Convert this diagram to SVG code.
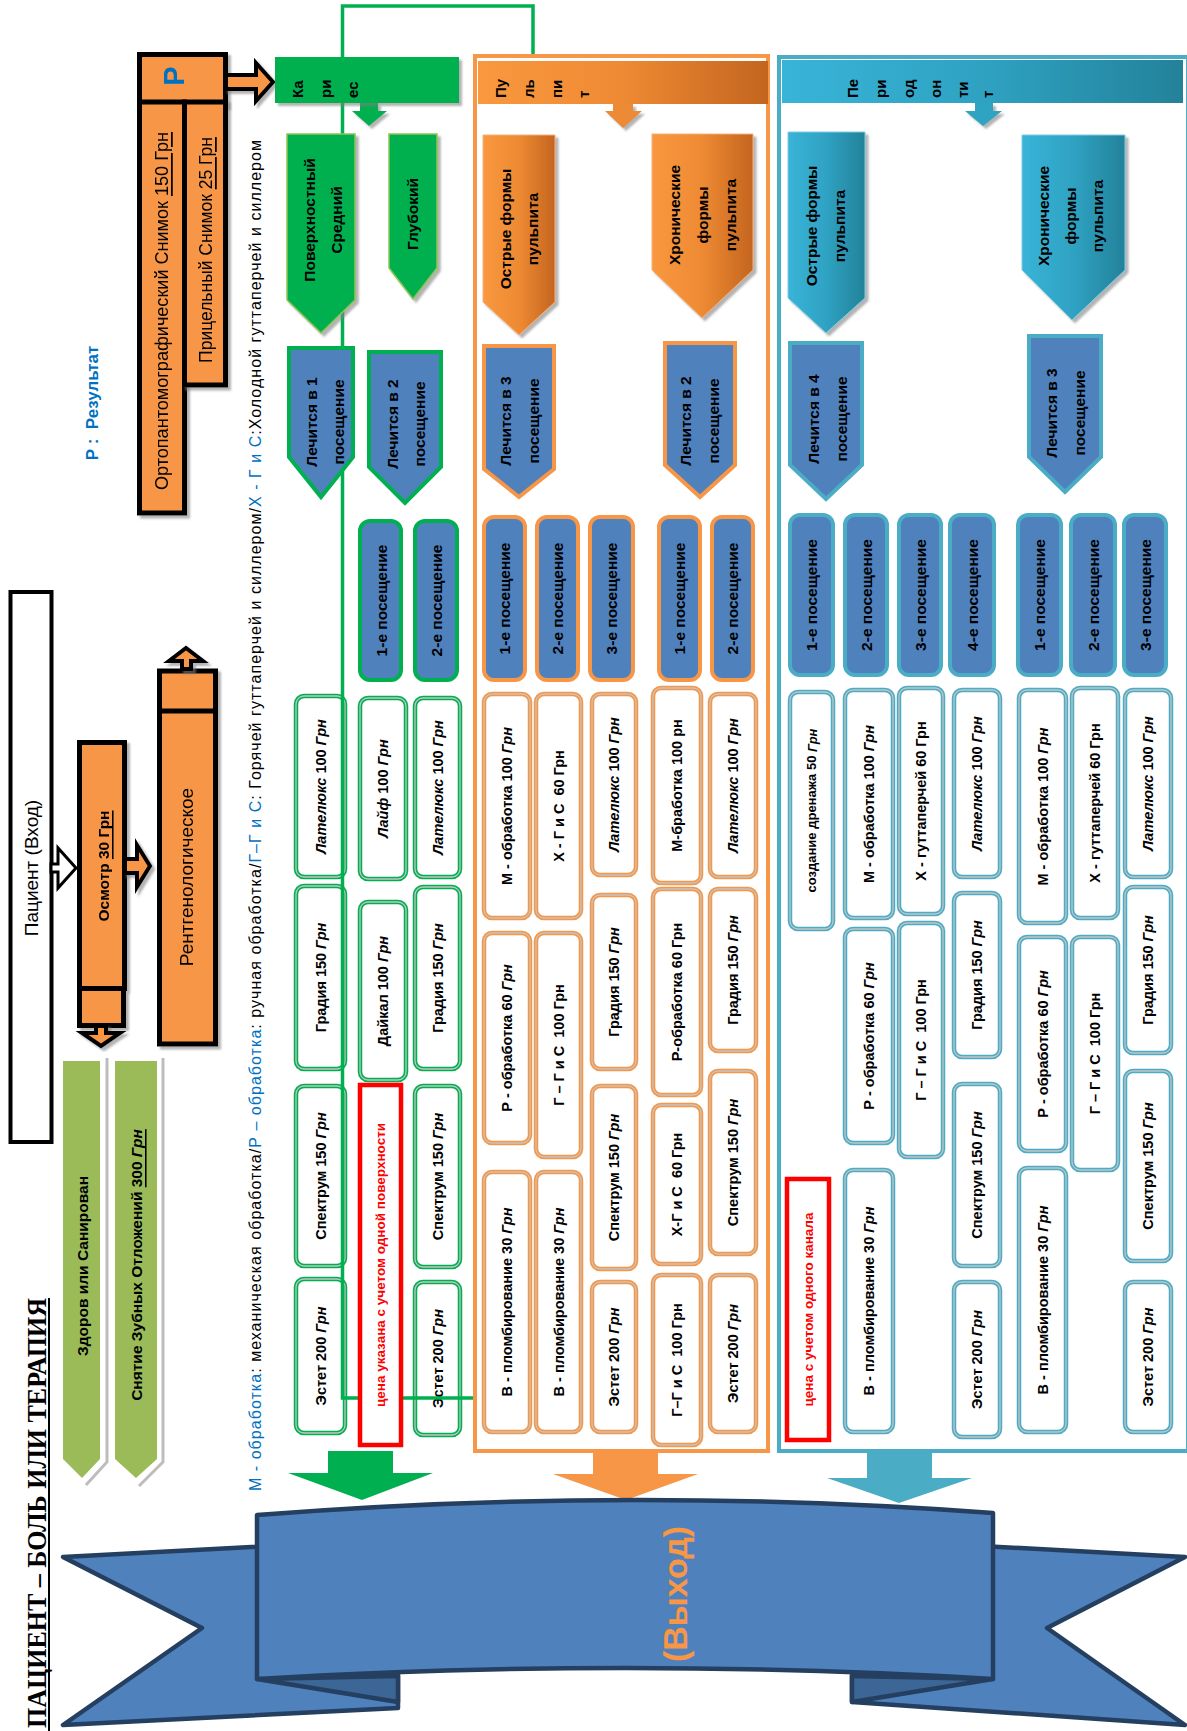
<svg xmlns="http://www.w3.org/2000/svg" width="1187" height="1731" viewBox="0 0 1187 1731">
<defs>
<style>
text{font-family:'Liberation Sans',Arial,sans-serif;fill:#000}
.t{font-weight:bold;font-size:14.5px;text-anchor:middle;dominant-baseline:central}
.p{font-weight:bold;font-size:15.5px;text-anchor:middle;dominant-baseline:central}
.h{font-weight:bold;font-size:15px;dominant-baseline:central}
.rt{fill:#FF0000;font-weight:bold;font-size:13.5px;text-anchor:middle;dominant-baseline:central}
.i{font-style:italic}
.u{text-decoration:underline}
.wb{fill:#fff;stroke-width:4.5}
.wi{fill:none;stroke:#C4C4C4;stroke-width:1.3}
.g{stroke:#00B050}
.o{stroke:#F79646}
.c{stroke:#4BACC6}
.vb{fill:#4F81BD;stroke-width:4}
.lb{fill:#4F81BD;stroke-width:4;stroke-linejoin:miter}
.pg{fill:#00B050;stroke:#8FC552;stroke-width:1.5}
.po{fill:url(#gO);stroke:#F6B07A;stroke-width:1}
.pc{fill:url(#gC);stroke:#7FCCE0;stroke-width:1}
.bk{fill:#F79646;stroke:#000;stroke-width:5}
.rd{fill:#fff;stroke:#FF0000;stroke-width:4.5}
.rb{fill:#4F81BD;stroke:#243F60;stroke-width:4.5;stroke-linejoin:round}
.sh{filter:url(#sh)}
</style>
<linearGradient id="gO" x1="0" y1="0" x2="1" y2="0"><stop offset="0" stop-color="#F9983F"/><stop offset="0.5" stop-color="#EE8A33"/><stop offset="1" stop-color="#C4651F"/></linearGradient>
<linearGradient id="gC" x1="0" y1="0" x2="1" y2="0"><stop offset="0" stop-color="#38B4D8"/><stop offset="0.5" stop-color="#2FA2C2"/><stop offset="1" stop-color="#23829A"/></linearGradient>
<filter id="sh" x="-20%" y="-20%" width="150%" height="150%"><feDropShadow dx="3" dy="3" stdDeviation="1" flood-color="#808080" flood-opacity="0.6"/></filter>
</defs>
<rect width="1187" height="1731" fill="#fff"/>

<g id="title">
<text transform="translate(46 1298) rotate(-90)" style="font-family:'Liberation Serif','Times New Roman',serif;font-weight:bold;font-size:26.5px;text-anchor:end" textLength="430" lengthAdjust="spacingAndGlyphs">ПАЦИЕНТ – БОЛЬ ИЛИ ТЕРАПИЯ</text>
<line x1="49" y1="1298" x2="49" y2="1731" stroke="#000" stroke-width="2"/>
</g>

<g id="legend-result">
<text transform="translate(92 403) rotate(-90)" style="fill:#0070C0;font-weight:bold;font-size:17px;text-anchor:middle;dominant-baseline:central" xml:space="preserve">Р :  Результат</text>
</g>

<g id="legend">
<text transform="translate(261 1491) rotate(-90)" style="font-size:16px" textLength="1351" lengthAdjust="spacing"><tspan fill="#0070C0">М - обработка</tspan>: механическая обработка/<tspan fill="#0070C0">Р – обработка</tspan>: ручная обработка/<tspan fill="#0070C0">Г–Г и С</tspan>: Горячей гуттаперчей и силлером/<tspan fill="#0070C0">Х - Г и С</tspan>:Холодной гуттаперчей и силлером</text>
</g>

<g id="patient">
<rect x="10.5" y="592" width="41" height="550" fill="#fff" stroke="#000" stroke-width="4"/>
<text transform="translate(31 868) rotate(-90)" style="font-size:19px;text-anchor:middle;dominant-baseline:central">Пациент (Вход)</text>
</g>

<g id="exam" class="sh">
<rect class="bk" x="79.5" y="742.5" width="45" height="246"/>
<rect class="bk" x="79.5" y="988.5" width="44" height="37"/>
<text transform="translate(103 866) rotate(-90)" style="font-weight:bold;font-size:15.5px;text-anchor:middle;dominant-baseline:central">Осмотр <tspan class="u">30 Грн</tspan></text>
</g>

<g id="xray" class="sh">
<rect class="bk" x="159.5" y="671" width="56" height="373"/>
<line x1="159.5" y1="711" x2="215.5" y2="711" stroke="#000" stroke-width="5"/>
<text transform="translate(186 877) rotate(-90)" style="font-size:19px;text-anchor:middle;dominant-baseline:central">Рентгенологическое</text>
</g>

<g id="result-p" class="sh">
<rect class="bk" x="139.5" y="54.5" width="86" height="50"/>
<text transform="translate(174 76) rotate(-90)" style="fill:#0070C0;font-weight:bold;font-size:29px;text-anchor:middle;dominant-baseline:central">Р</text>
</g>
<g id="ortho" class="sh">
<rect class="bk" x="139.5" y="102" width="45" height="411"/>
<text transform="translate(162 311) rotate(-90)" style="font-size:17.5px;text-anchor:middle;dominant-baseline:central" textLength="358" lengthAdjust="spacingAndGlyphs">Ортопантомографический Снимок <tspan class="u">150 Грн</tspan></text>
</g>
<g id="aim" class="sh">
<rect class="bk" x="184.5" y="102" width="41" height="283"/>
<text transform="translate(206 250) rotate(-90)" style="font-size:17.5px;text-anchor:middle;dominant-baseline:central">Прицельный Снимок <tspan class="u">25 Грн</tspan></text>
</g>

<g id="healthy">
<polyline points="107,1058 107,1462 86,1485" fill="none" stroke="#BDBDBD" stroke-width="3"/>
<polygon points="63,1061 100,1061 100,1459 82,1478 63,1459" fill="#9BBB59"/>
<text class="p" transform="translate(82 1266) rotate(-90)">Здоров или Санирован</text>
</g>
<g id="scaling">
<polyline points="163,1058 163,1462 139,1486" fill="none" stroke="#BDBDBD" stroke-width="3"/>
<polygon points="115,1061 157,1061 157,1459 136,1478 115,1459" fill="#9BBB59"/>
<text class="p" transform="translate(136 1265) rotate(-90)">Снятие Зубных Отложений <tspan class="u">300 <tspan class="i">Грн</tspan></tspan></text>
</g>

<g id="pulp-frame"><rect x="475" y="56" width="293" height="1395" fill="none" stroke="#F79646" stroke-width="4"/></g>
<g id="perio-frame"><rect x="779" y="57" width="409" height="1394" fill="none" stroke="#4BACC6" stroke-width="4"/></g>

<g id="c-a1"><rect class="wb g" x="296" y="696" width="49" height="181" rx="8"/><rect class="wi" x="296" y="696" width="49" height="181" rx="8"/><text class="t" transform="translate(320.5 786.5) rotate(-90)"><tspan class="i">Лателюкс</tspan> 100 <tspan class="i">Грн</tspan></text></g>
<g id="c-a2"><rect class="wb g" x="296" y="886" width="49" height="183" rx="8"/><rect class="wi" x="296" y="886" width="49" height="183" rx="8"/><text class="t" transform="translate(320.5 977.5) rotate(-90)">Градия 150 <tspan class="i">Грн</tspan></text></g>
<g id="c-a3"><rect class="wb g" x="296" y="1086" width="49" height="180" rx="8"/><rect class="wi" x="296" y="1086" width="49" height="180" rx="8"/><text class="t" transform="translate(320.5 1176) rotate(-90)">Спектрум 150 <tspan class="i">Грн</tspan></text></g>
<g id="c-a4"><rect class="wb g" x="296" y="1279" width="49" height="154" rx="8"/><rect class="wi" x="296" y="1279" width="49" height="154" rx="8"/><text class="t" transform="translate(320.5 1356) rotate(-90)">Эстет 200 <tspan class="i">Грн</tspan></text></g>
<g id="c-b1"><rect class="wb g" x="360" y="698" width="46" height="181" rx="8"/><rect class="wi" x="360" y="698" width="46" height="181" rx="8"/><text class="t" transform="translate(383 788.5) rotate(-90)"><tspan class="i">Лайф</tspan> 100 <tspan class="i">Грн</tspan></text></g>
<g id="c-b2"><rect class="wb g" x="360" y="902" width="46" height="178" rx="8"/><rect class="wi" x="360" y="902" width="46" height="178" rx="8"/><text class="t" transform="translate(383 991) rotate(-90)">Дайкал 100 <tspan class="i">Грн</tspan></text></g>
<g id="c-c1"><rect class="wb g" x="415" y="698" width="45" height="179" rx="8"/><rect class="wi" x="415" y="698" width="45" height="179" rx="8"/><text class="t" transform="translate(437.5 787.5) rotate(-90)"><tspan class="i">Лателюкс</tspan> 100 <tspan class="i">Грн</tspan></text></g>
<g id="c-c2"><rect class="wb g" x="415" y="887" width="45" height="182" rx="8"/><rect class="wi" x="415" y="887" width="45" height="182" rx="8"/><text class="t" transform="translate(437.5 978) rotate(-90)">Градия 150 <tspan class="i">Грн</tspan></text></g>
<g id="c-c3"><rect class="wb g" x="415" y="1086" width="45" height="181" rx="8"/><rect class="wi" x="415" y="1086" width="45" height="181" rx="8"/><text class="t" transform="translate(437.5 1176.5) rotate(-90)">Спектрум 150 <tspan class="i">Грн</tspan></text></g>
<g id="c-c4"><rect class="wb g" x="415" y="1282" width="45" height="153" rx="8"/><rect class="wi" x="415" y="1282" width="45" height="153" rx="8"/><text class="t" transform="translate(437.5 1358.5) rotate(-90)">Эстет 200 <tspan class="i">Грн</tspan></text></g>

<g id="p-1a"><rect class="wb o" x="484" y="694" width="46" height="224" rx="8"/><rect class="wi" x="484" y="694" width="46" height="224" rx="8"/><text class="t" transform="translate(507 806) rotate(-90)">М - обработка 100 <tspan class="i">Грн</tspan></text></g>
<g id="p-1b"><rect class="wb o" x="484" y="933" width="46" height="210" rx="8"/><rect class="wi" x="484" y="933" width="46" height="210" rx="8"/><text class="t" transform="translate(507 1038) rotate(-90)">Р - обработка 60 <tspan class="i">Грн</tspan></text></g>
<g id="p-1c"><rect class="wb o" x="484" y="1172" width="46" height="260" rx="8"/><rect class="wi" x="484" y="1172" width="46" height="260" rx="8"/><text class="t" transform="translate(507 1302) rotate(-90)">В - пломбирование 30 <tspan class="i">Грн</tspan></text></g>
<g id="p-2a"><rect class="wb o" x="536" y="694" width="45" height="224" rx="8"/><rect class="wi" x="536" y="694" width="45" height="224" rx="8"/><text class="t" transform="translate(558.5 806) rotate(-90)" xml:space="preserve">Х - Г и С  60 Грн</text></g>
<g id="p-2b"><rect class="wb o" x="536" y="933" width="45" height="224" rx="8"/><rect class="wi" x="536" y="933" width="45" height="224" rx="8"/><text class="t" transform="translate(558.5 1045) rotate(-90)" xml:space="preserve">Г – Г и С  100 Грн</text></g>
<g id="p-2c"><rect class="wb o" x="536" y="1172" width="45" height="260" rx="8"/><rect class="wi" x="536" y="1172" width="45" height="260" rx="8"/><text class="t" transform="translate(558.5 1302) rotate(-90)">В - пломбирование 30 <tspan class="i">Грн</tspan></text></g>
<g id="p-3a"><rect class="wb o" x="592" y="694" width="44" height="181" rx="8"/><rect class="wi" x="592" y="694" width="44" height="181" rx="8"/><text class="t" transform="translate(614 784.5) rotate(-90)"><tspan class="i">Лателюкс</tspan> 100 <tspan class="i">Грн</tspan></text></g>
<g id="p-3b"><rect class="wb o" x="592" y="895" width="44" height="174" rx="8"/><rect class="wi" x="592" y="895" width="44" height="174" rx="8"/><text class="t" transform="translate(614 982) rotate(-90)">Градия 150 <tspan class="i">Грн</tspan></text></g>
<g id="p-3c"><rect class="wb o" x="592" y="1086" width="44" height="183" rx="8"/><rect class="wi" x="592" y="1086" width="44" height="183" rx="8"/><text class="t" transform="translate(614 1177.5) rotate(-90)">Спектрум 150 <tspan class="i">Грн</tspan></text></g>
<g id="p-3d"><rect class="wb o" x="592" y="1282" width="44" height="150" rx="8"/><rect class="wi" x="592" y="1282" width="44" height="150" rx="8"/><text class="t" transform="translate(614 1357) rotate(-90)">Эстет 200 <tspan class="i">Грн</tspan></text></g>
<g id="p-4a"><rect class="wb o" x="653" y="688" width="48" height="195" rx="8"/><rect class="wi" x="653" y="688" width="48" height="195" rx="8"/><text class="t" transform="translate(677 785.5) rotate(-90)">М-бработка 100 рн</text></g>
<g id="p-4b"><rect class="wb o" x="653" y="889" width="48" height="206" rx="8"/><rect class="wi" x="653" y="889" width="48" height="206" rx="8"/><text class="t" transform="translate(677 992) rotate(-90)">Р-обработка 60 Грн</text></g>
<g id="p-4c"><rect class="wb o" x="653" y="1105" width="48" height="159" rx="8"/><rect class="wi" x="653" y="1105" width="48" height="159" rx="8"/><text class="t" transform="translate(677 1184.5) rotate(-90)" xml:space="preserve">Х-Г и С  60 Грн</text></g>
<g id="p-4d"><rect class="wb o" x="653" y="1275" width="48" height="170" rx="8"/><rect class="wi" x="653" y="1275" width="48" height="170" rx="8"/><text class="t" transform="translate(677 1360) rotate(-90)" xml:space="preserve">Г–Г и С  100 Грн</text></g>
<g id="p-5a"><rect class="wb o" x="710" y="694" width="46" height="183" rx="8"/><rect class="wi" x="710" y="694" width="46" height="183" rx="8"/><text class="t" transform="translate(733 785.5) rotate(-90)"><tspan class="i">Лателюкс</tspan> 100 <tspan class="i">Грн</tspan></text></g>
<g id="p-5b"><rect class="wb o" x="710" y="889" width="46" height="162" rx="8"/><rect class="wi" x="710" y="889" width="46" height="162" rx="8"/><text class="t" transform="translate(733 970) rotate(-90)">Градия 150 <tspan class="i">Грн</tspan></text></g>
<g id="p-5c"><rect class="wb o" x="710" y="1071" width="46" height="183" rx="8"/><rect class="wi" x="710" y="1071" width="46" height="183" rx="8"/><text class="t" transform="translate(733 1162.5) rotate(-90)">Спектрум 150 <tspan class="i">Грн</tspan></text></g>
<g id="p-5d"><rect class="wb o" x="710" y="1275" width="46" height="157" rx="8"/><rect class="wi" x="710" y="1275" width="46" height="157" rx="8"/><text class="t" transform="translate(733 1353.5) rotate(-90)">Эстет 200 <tspan class="i">Грн</tspan></text></g>

<g id="r-1a"><rect class="wb c" x="790" y="692" width="43" height="237" rx="8"/><rect class="wi" x="790" y="692" width="43" height="237" rx="8"/><text class="t" style="font-size:13px" transform="translate(811.5 810.5) rotate(-90)">создание дренажа 50 <tspan class="i">Грн</tspan></text></g>
<g id="r-2a"><rect class="wb c" x="845" y="690" width="48" height="228" rx="8"/><rect class="wi" x="845" y="690" width="48" height="228" rx="8"/><text class="t" transform="translate(869 804) rotate(-90)">М - обработка 100 <tspan class="i">Грн</tspan></text></g>
<g id="r-2b"><rect class="wb c" x="845" y="929" width="48" height="214" rx="8"/><rect class="wi" x="845" y="929" width="48" height="214" rx="8"/><text class="t" transform="translate(869 1036) rotate(-90)">Р - обработка 60 <tspan class="i">Грн</tspan></text></g>
<g id="r-2c"><rect class="wb c" x="845" y="1170" width="48" height="262" rx="8"/><rect class="wi" x="845" y="1170" width="48" height="262" rx="8"/><text class="t" transform="translate(869 1301) rotate(-90)">В - пломбирование 30 <tspan class="i">Грн</tspan></text></g>
<g id="r-3a"><rect class="wb c" x="899" y="688" width="44" height="226" rx="8"/><rect class="wi" x="899" y="688" width="44" height="226" rx="8"/><text class="t" transform="translate(921 801) rotate(-90)">Х - гуттаперчей 60 Грн</text></g>
<g id="r-3b"><rect class="wb c" x="899" y="923" width="44" height="234" rx="8"/><rect class="wi" x="899" y="923" width="44" height="234" rx="8"/><text class="t" transform="translate(921 1040) rotate(-90)" xml:space="preserve">Г – Г и С  100 Грн</text></g>
<g id="r-4a"><rect class="wb c" x="954" y="690" width="46" height="187" rx="8"/><rect class="wi" x="954" y="690" width="46" height="187" rx="8"/><text class="t" transform="translate(977 783.5) rotate(-90)"><tspan class="i">Лателюкс</tspan> 100 <tspan class="i">Грн</tspan></text></g>
<g id="r-4b"><rect class="wb c" x="954" y="893" width="46" height="164" rx="8"/><rect class="wi" x="954" y="893" width="46" height="164" rx="8"/><text class="t" transform="translate(977 975) rotate(-90)">Градия 150 <tspan class="i">Грн</tspan></text></g>
<g id="r-4c"><rect class="wb c" x="954" y="1084" width="46" height="182" rx="8"/><rect class="wi" x="954" y="1084" width="46" height="182" rx="8"/><text class="t" transform="translate(977 1175) rotate(-90)">Спектрум 150 <tspan class="i">Грн</tspan></text></g>
<g id="r-4d"><rect class="wb c" x="954" y="1282" width="46" height="155" rx="8"/><rect class="wi" x="954" y="1282" width="46" height="155" rx="8"/><text class="t" transform="translate(977 1359.5) rotate(-90)">Эстет 200 <tspan class="i">Грн</tspan></text></g>
<g id="r-5a"><rect class="wb c" x="1019" y="690" width="47" height="233" rx="8"/><rect class="wi" x="1019" y="690" width="47" height="233" rx="8"/><text class="t" transform="translate(1042.5 806.5) rotate(-90)">М - обработка 100 <tspan class="i">Грн</tspan></text></g>
<g id="r-5b"><rect class="wb c" x="1019" y="937" width="47" height="214" rx="8"/><rect class="wi" x="1019" y="937" width="47" height="214" rx="8"/><text class="t" transform="translate(1042.5 1044) rotate(-90)">Р - обработка 60 <tspan class="i">Грн</tspan></text></g>
<g id="r-5c"><rect class="wb c" x="1019" y="1168" width="47" height="264" rx="8"/><rect class="wi" x="1019" y="1168" width="47" height="264" rx="8"/><text class="t" transform="translate(1042.5 1300) rotate(-90)">В - пломбирование 30 <tspan class="i">Грн</tspan></text></g>
<g id="r-6a"><rect class="wb c" x="1072" y="688" width="46" height="230" rx="8"/><rect class="wi" x="1072" y="688" width="46" height="230" rx="8"/><text class="t" transform="translate(1095 803) rotate(-90)">Х - гуттаперчей 60 Грн</text></g>
<g id="r-6b"><rect class="wb c" x="1072" y="937" width="46" height="233" rx="8"/><rect class="wi" x="1072" y="937" width="46" height="233" rx="8"/><text class="t" transform="translate(1095 1053.5) rotate(-90)" xml:space="preserve">Г – Г и С  100 Грн</text></g>
<g id="r-7a"><rect class="wb c" x="1125" y="690" width="46" height="187" rx="8"/><rect class="wi" x="1125" y="690" width="46" height="187" rx="8"/><text class="t" transform="translate(1148 783.5) rotate(-90)"><tspan class="i">Лателюкс</tspan> 100 <tspan class="i">Грн</tspan></text></g>
<g id="r-7b"><rect class="wb c" x="1125" y="887" width="46" height="166" rx="8"/><rect class="wi" x="1125" y="887" width="46" height="166" rx="8"/><text class="t" transform="translate(1148 970) rotate(-90)">Градия 150 <tspan class="i">Грн</tspan></text></g>
<g id="r-7c"><rect class="wb c" x="1125" y="1071" width="46" height="190" rx="8"/><rect class="wi" x="1125" y="1071" width="46" height="190" rx="8"/><text class="t" transform="translate(1148 1166) rotate(-90)">Спектрум 150 <tspan class="i">Грн</tspan></text></g>
<g id="r-7d"><rect class="wb c" x="1125" y="1282" width="46" height="150" rx="8"/><rect class="wi" x="1125" y="1282" width="46" height="150" rx="8"/><text class="t" transform="translate(1148 1357) rotate(-90)">Эстет 200 <tspan class="i">Грн</tspan></text></g>

<g id="connectors">
<path d="M533 54 V6 H342.5 V1398 H473" fill="none" stroke="#00B050" stroke-width="3.5"/>
<polygon points="51,864 58,864 58,848 76,868 58,888 58,872 51,872" fill="#fff" stroke="#000" stroke-width="3" stroke-linejoin="miter"/>
<polygon class="sh" points="125,859 137,859 137,845 150,866 137,887 137,873 125,873" fill="#F79646" stroke="#000" stroke-width="4"/>
<polygon class="sh" points="96,1026 106,1026 106,1033 120,1033 101,1046 82,1033 96,1033" fill="#F79646" stroke="#000" stroke-width="4"/>
<polygon class="sh" points="182,669 182,661 169,661 186,648 203,661 191,661 191,669" fill="#F79646" stroke="#000" stroke-width="4"/>
<polygon class="sh" points="226,75 256,75 256,63 273,82 256,101 256,89 226,89" fill="#F79646" stroke="#000" stroke-width="4"/>
<polygon class="sh" points="360,103 378,103 378,111 387,111 369,126 352,111 360,111" fill="#00B050"/>
<polygon class="sh" points="613,104 633,104 633,111 642,111 623,128 605,111 613,111" fill="#EC8A36"/>
<polygon class="sh" points="975,103 993,103 993,111 1002,111 983,126 965,111 975,111" fill="#2FA3C2"/>
<polygon points="328,1451 393,1451 393,1473 433,1473 362,1500 288,1473 328,1473" fill="#00B050"/>
<polygon points="593,1452 658,1452 658,1474 698,1474 626,1500 553,1474 593,1474" fill="#F79646"/>
<polygon points="867,1452 932,1452 932,1478 972,1478 899,1503 827,1478 867,1478" fill="#4BACC6"/>
</g>

<g id="caries-head"><rect class="sh" x="275" y="57" width="184" height="46" fill="#00B050"/>
<text class="h" transform="translate(297 98) rotate(-90)"><tspan x="0" y="0">Ка</tspan><tspan x="0" y="28">ри</tspan><tspan x="0" y="55">ес</tspan></text></g>
<g id="c-surface"><polygon class="pg sh" points="287,134 355,134 355,300 321,333 287,300"/>
<text class="p" transform="translate(322 220) rotate(-90)"><tspan x="0" y="-13.5">Поверхностный</tspan><tspan x="0" y="13.5">Средний</tspan></text></g>
<g id="c-deep"><polygon class="pg sh" points="389,134 437,134 437,268 413,299 389,268"/>
<text class="p" transform="translate(412 214) rotate(-90)">Глубокий</text></g>
<g id="c-l1"><polygon class="lb g" points="289,348 353,348 353,457 321,497 289,457"/>
<text class="p" transform="translate(324 422) rotate(-90)"><tspan x="0" y="-13.5">Лечится в 1</tspan><tspan x="0" y="13.5">посещение</tspan></text></g>
<g id="c-l2"><polygon class="lb g" points="369,352 441,352 441,467 405,503 369,467"/>
<text class="p" transform="translate(405 424) rotate(-90)"><tspan x="0" y="-13.5">Лечится в 2</tspan><tspan x="0" y="13.5">посещение</tspan></text></g>
<g id="c-v1"><rect class="vb g" x="360" y="521" width="41" height="159" rx="10"/><text class="p" transform="translate(381 600.5) rotate(-90)">1-е посещение</text></g>
<g id="c-v2"><rect class="vb g" x="415" y="521" width="42" height="159" rx="10"/><text class="p" transform="translate(436 600.5) rotate(-90)">2-е посещение</text></g>
<g id="c-note"><rect class="rd" x="360" y="1085" width="41" height="360"/><text class="rt" transform="translate(380.5 1265) rotate(-90)">цена указана с учетом одной поверхности</text></g>

<g id="pulp-head"><rect x="478" y="61" width="290" height="43" fill="url(#gO)"/>
<text class="h" transform="translate(500 98) rotate(-90)"><tspan x="0" y="0">Пу</tspan><tspan x="0" y="28">ль</tspan><tspan x="0" y="56">пи</tspan><tspan x="0" y="83">т</tspan></text></g>
<g id="p-acute"><polygon class="po sh" points="483,135 555,135 555,302 519,335 483,302"/>
<text class="p" transform="translate(518 229) rotate(-90)"><tspan x="0" y="-13.5">Острые формы</tspan><tspan x="0" y="13.5">пульпита</tspan></text></g>
<g id="p-chronic"><polygon class="po sh" points="652,134 753,134 753,270 702,318 652,270"/>
<text class="p" transform="translate(702 215) rotate(-90)"><tspan x="0" y="-28">Хронические</tspan><tspan x="0" y="0">формы</tspan><tspan x="0" y="28">пульпита</tspan></text></g>
<g id="p-l3"><polygon class="lb o" points="484,346 554,346 554,469 519,497 484,469"/>
<text class="p" transform="translate(519 421) rotate(-90)"><tspan x="0" y="-14">Лечится в 3</tspan><tspan x="0" y="14">посещение</tspan></text></g>
<g id="p-l2"><polygon class="lb o" points="665,343 735,343 735,465 700,497 665,465"/>
<text class="p" transform="translate(699 421) rotate(-90)"><tspan x="0" y="-14">Лечится в 2</tspan><tspan x="0" y="14">посещение</tspan></text></g>
<g id="p-v1"><rect class="vb o" x="484" y="517" width="41" height="163" rx="10"/><text class="p" transform="translate(504.5 598.5) rotate(-90)">1-е посещение</text></g>
<g id="p-v2"><rect class="vb o" x="537" y="517" width="41" height="163" rx="10"/><text class="p" transform="translate(557.5 598.5) rotate(-90)">2-е посещение</text></g>
<g id="p-v3"><rect class="vb o" x="590" y="517" width="43" height="163" rx="10"/><text class="p" transform="translate(611.5 598.5) rotate(-90)">3-е посещение</text></g>
<g id="p-v4"><rect class="vb o" x="659" y="517" width="41" height="163" rx="10"/><text class="p" transform="translate(679.5 598.5) rotate(-90)">1-е посещение</text></g>
<g id="p-v5"><rect class="vb o" x="712" y="517" width="41" height="163" rx="10"/><text class="p" transform="translate(732.5 598.5) rotate(-90)">2-е посещение</text></g>

<g id="perio-head"><rect x="782" y="60" width="401" height="43" fill="url(#gC)"/>
<text class="h" transform="translate(852 98) rotate(-90)"><tspan x="0" y="0">Пе</tspan><tspan x="0" y="28">ри</tspan><tspan x="0" y="56">од</tspan><tspan x="0" y="83">он</tspan><tspan x="0" y="110">ти</tspan><tspan x="0" y="135">т</tspan></text></g>
<g id="r-acute"><polygon class="pc sh" points="788,132 865,132 865,298 826,333 788,298"/>
<text class="p" transform="translate(825 226) rotate(-90)"><tspan x="0" y="-14">Острые формы</tspan><tspan x="0" y="14">пульпита</tspan></text></g>
<g id="r-chronic"><polygon class="pc sh" points="1022,135 1125,135 1125,270 1072,320 1022,270"/>
<text class="p" transform="translate(1070 216) rotate(-90)"><tspan x="0" y="-27">Хронические</tspan><tspan x="0" y="0">формы</tspan><tspan x="0" y="27">пульпита</tspan></text></g>
<g id="r-l4"><polygon class="lb c" points="790,343 862,343 862,465 826,499 790,465"/>
<text class="p" transform="translate(827 419) rotate(-90)"><tspan x="0" y="-14">Лечится в 4</tspan><tspan x="0" y="14">посещение</tspan></text></g>
<g id="r-l3"><polygon class="lb c" points="1029,336 1101,336 1101,457 1065,492 1029,457"/>
<text class="p" transform="translate(1065 413) rotate(-90)"><tspan x="0" y="-14">Лечится в 3</tspan><tspan x="0" y="14">посещение</tspan></text></g>
<g id="r-v1"><rect class="vb c" x="790" y="515" width="43" height="160" rx="10"/><text class="p" transform="translate(811.5 595) rotate(-90)">1-е посещение</text></g>
<g id="r-v2"><rect class="vb c" x="845" y="515" width="42" height="160" rx="10"/><text class="p" transform="translate(866 595) rotate(-90)">2-е посещение</text></g>
<g id="r-v3"><rect class="vb c" x="899" y="515" width="42" height="160" rx="10"/><text class="p" transform="translate(920 595) rotate(-90)">3-е посещение</text></g>
<g id="r-v4"><rect class="vb c" x="950" y="515" width="44" height="160" rx="10"/><text class="p" transform="translate(972 595) rotate(-90)">4-е посещение</text></g>
<g id="r-v5"><rect class="vb c" x="1018" y="515" width="43" height="160" rx="10"/><text class="p" transform="translate(1039.5 595) rotate(-90)">1-е посещение</text></g>
<g id="r-v6"><rect class="vb c" x="1071" y="515" width="44" height="160" rx="10"/><text class="p" transform="translate(1093 595) rotate(-90)">2-е посещение</text></g>
<g id="r-v7"><rect class="vb c" x="1124" y="515" width="42" height="160" rx="10"/><text class="p" transform="translate(1145 595) rotate(-90)">3-е посещение</text></g>
<g id="r-note"><rect class="rd" x="787" y="1179" width="42" height="261"/><text class="rt" transform="translate(808 1309.5) rotate(-90)">цена с учетом одного канала</text></g>

<g id="exit">
<polygon class="rb" points="398,1539 63,1557 202,1628 63,1725 398,1708"/>
<polygon class="rb" points="852,1539 1185,1557 1047,1628 1185,1725 852,1702"/>
<polygon class="rb" points="398,1676 257,1679 398,1702" style="fill:#3C6696"/>
<polygon class="rb" points="852,1676 993,1679 852,1702" style="fill:#3C6696"/>
<path class="rb" d="M257 1515 Q625 1486 993 1513 L993 1679 Q625 1657 257 1679 Z"/>
<text transform="translate(675 1594) rotate(-90)" style="fill:#F79646;font-weight:bold;font-size:34px;text-anchor:middle;dominant-baseline:central">(Выход)</text>
</g>
</svg>
